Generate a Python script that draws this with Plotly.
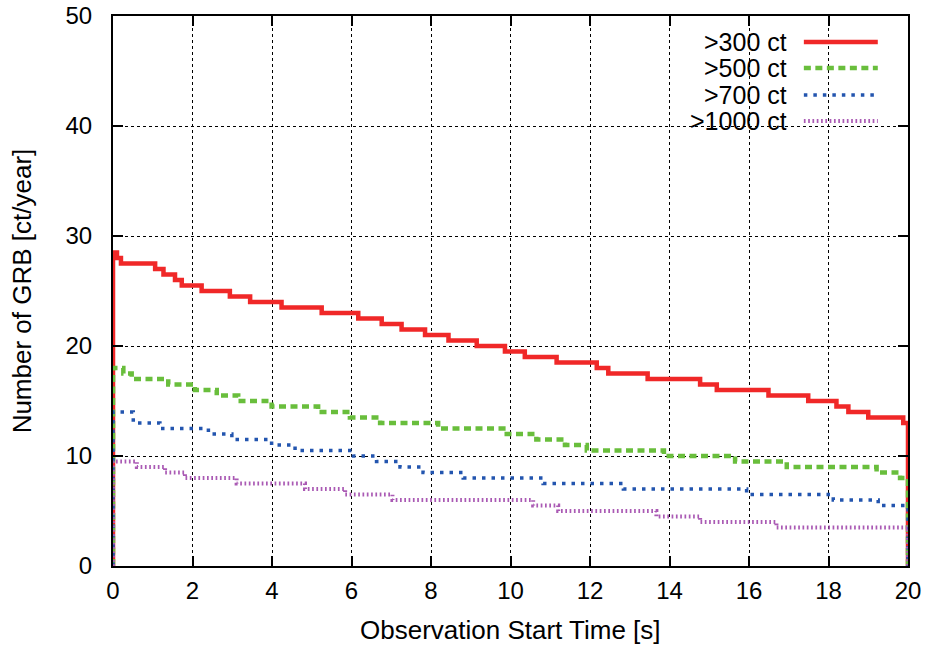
import plotly.graph_objects as go

# ---- data (step breakpoints) ----
t_300 = [0, 0.1, 0.2, 1.06, 1.27, 1.56, 1.73, 2.23, 2.94, 3.45, 4.24, 5.25, 6.17, 6.76,
         7.26, 7.85, 8.44, 9.15, 9.86, 10.36, 11.16, 12.17, 12.46, 13.45, 14.77, 15.19,
         16.49, 17.49, 18.2, 18.5, 19.0, 19.88]
n_300 = [28.5, 28, 27.5, 27, 26.5, 26, 25.5, 25, 24.5, 24, 23.5, 23, 22.5, 22,
         21.5, 21, 20.5, 20, 19.5, 19, 18.5, 18, 17.5, 17, 16.5, 16,
         15.5, 15, 14.5, 14, 13.5, 13]

t_500 = [0, 0.26, 0.47, 1.39, 2.06, 2.61, 3.15, 3.99, 5.16, 5.96, 6.72, 8.18, 9.82,
         10.65, 11.37, 11.92, 13.86, 15.65, 16.95, 19.21, 19.8]
n_500 = [18, 17.5, 17, 16.5, 16, 15.5, 15, 14.5, 14, 13.5, 13, 12.5, 12,
         11.5, 11, 10.5, 10, 9.5, 9, 8.5, 8]

t_700 = [0, 0.51, 1.18, 2.4, 2.99, 3.99, 4.58, 6.05, 6.63, 7.22, 7.8, 8.81, 10.82,
         12.84, 15.94, 18.12, 19.25]
n_700 = [14, 13, 12.5, 12, 11.5, 11, 10.5, 10, 9.5, 9, 8.5, 8, 7.5,
         7, 6.5, 6, 5.5]

t_1000 = [0, 0.6, 1.31, 1.81, 3.11, 4.83, 5.84, 7.03, 10.57, 11.2, 13.67, 14.77, 16.69]
n_1000 = [9.5, 9, 8.5, 8, 7.5, 7, 6.5, 6, 5.5, 5, 4.5, 4, 3.5]

t_end = 20
labels = [">300 ct", ">500 ct", ">700 ct", ">1000 ct"]
x_ticks = [0, 2, 4, 6, 8, 10, 12, 14, 16, 18, 20]
y_ticks = [0, 10, 20, 30, 40, 50]
x_title = "Observation Start Time [s]"
y_title = "Number of GRB [ct/year]"

series = [
    (t_300, n_300, "rgb(240,40,40)", "solid", 4.5),
    (t_500, n_500, "rgb(105,190,60)", "7px,4.5px", 4.5),
    (t_700, n_700, "rgb(35,85,175)", "3.5px,6px", 3.5),
    (t_1000, n_1000, "rgb(170,90,180)", "1.7px,2.6px", 4),
]

FONT = "Liberation Sans, Arial, Helvetica, sans-serif"
fig = go.Figure()
for (t, n, col, dash, w), lab in zip(series, labels):
    xs = [0] + list(t) + [t_end]
    ys = [0] + list(n) + [0]
    fig.add_trace(go.Scatter(x=xs, y=ys, mode="lines", name=lab,
                             line=dict(color=col, dash=dash, width=w, shape="hv"),
                             showlegend=False))

# custom gnuplot-style legend: text left, sample right
leg_y = [0.9527, 0.9055, 0.8564, 0.809]
for (t, n, col, dash, w), lab, yy in zip(series, labels, leg_y):
    fig.add_annotation(x=0.849, y=yy, xref="paper", yref="paper", text=lab,
                       showarrow=False, xanchor="right", yanchor="middle",
                       height=24, borderpad=0,
                       font=dict(family=FONT, size=25, color="black"))
    fig.add_shape(type="line", xref="paper", yref="paper", x0=0.869, x1=0.962,
                  y0=yy, y1=yy, line=dict(color=col, dash=dash, width=w))

# axis titles
fig.add_annotation(x=0.5, y=-0.117, xref="paper", yref="paper", text=x_title,
                   showarrow=False, xanchor="center", yanchor="middle",
                   font=dict(family=FONT, size=26, color="black"))
fig.add_annotation(x=-0.114, y=0.5, xref="paper", yref="paper", text=y_title,
                   showarrow=False, xanchor="center", yanchor="middle", textangle=-90,
                   font=dict(family=FONT, size=26, color="black"))

axis_common = dict(showline=True, linecolor="black", linewidth=2, mirror="ticks",
                   ticks="inside", ticklen=10, tickwidth=1.5, tickcolor="black",
                   showgrid=True, gridcolor="black", griddash="dot", gridwidth=1,
                   zeroline=False, tickfont=dict(family=FONT, size=24, color="black"),
                   automargin=False)

fig.update_xaxes(range=[0, 20], tickvals=x_ticks, ticklabelstandoff=2, **axis_common)
fig.update_yaxes(range=[0, 50], tickvals=y_ticks, ticklabelstandoff=14, **axis_common)

fig.update_layout(width=929, height=648, margin=dict(l=113, r=21, t=16, b=82),
                  plot_bgcolor="white", paper_bgcolor="white")

fig.write_html("out.html")
